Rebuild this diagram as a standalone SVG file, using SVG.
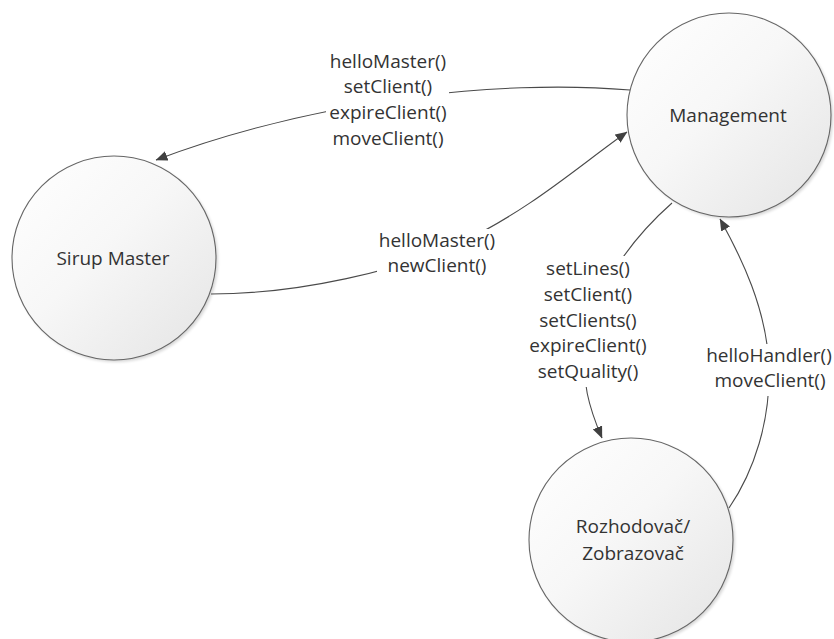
<svg xmlns="http://www.w3.org/2000/svg" width="834" height="639" viewBox="0 0 834 639">
  <defs>
    <linearGradient id="nodeFill" x1="0" y1="0" x2="1" y2="1">
      <stop offset="0" stop-color="#ffffff"/>
      <stop offset="0.45" stop-color="#f7f7f7"/>
      <stop offset="1" stop-color="#e4e4e4"/>
    </linearGradient>
    <filter id="soft" x="-20%" y="-20%" width="140%" height="140%">
      <feGaussianBlur stdDeviation="1.6"/>
    </filter>
    <marker id="arrow" viewBox="0 0 12 10" refX="11.5" refY="5" markerWidth="12" markerHeight="10" markerUnits="userSpaceOnUse" orient="auto">
      <path d="M0,0 L12,5 L0,10 z" fill="#404040"/>
    </marker>
    <style>
      .node-shadow { fill: #000000; opacity: 0.16; filter: url(#soft); }
      .node { fill: url(#nodeFill); stroke: #666666; stroke-width: 1.1; }
      .node-text { font-family: "Open Sans", "Noto Sans", "Liberation Sans", sans-serif; font-size: 19px; fill: #333333; text-anchor: middle; }
      .edge { fill: none; stroke: #4a4a4a; stroke-width: 1.1; marker-end: url(#arrow); }
      .label-bg { fill: #ffffff; }
      .label { font-family: "Open Sans", "Noto Sans", "Liberation Sans", sans-serif; font-size: 19px; fill: #333333; text-anchor: middle; }
    </style>
  </defs>

  <rect width="834" height="639" fill="#ffffff"/>

  <!-- nodes -->
  <g id="management">
    <circle class="node-shadow" cx="731" cy="117" r="102"/>
    <circle class="node" cx="729" cy="115" r="102"/>
    <text class="node-text" x="728" y="122">Management</text>
  </g>

  <g id="sirup-master">
    <circle class="node-shadow" cx="116" cy="260" r="102"/>
    <circle class="node" cx="114" cy="258" r="102"/>
    <text class="node-text" x="113" y="265">Sirup Master</text>
  </g>

  <g id="rozhodovac">
    <circle class="node-shadow" cx="633" cy="542" r="102"/>
    <circle class="node" cx="631" cy="540" r="102"/>
    <text class="node-text" x="633" y="533">Rozhodovač/</text>
    <text class="node-text" x="633" y="560">Zobrazovač</text>
  </g>

  <!-- connectors with their labels -->
  <g id="connectors">
    <!-- Management -> Sirup Master -->
    <path class="edge" d="M630,90 C560,84 480,88 420,96 C330,108 240,128 156,160"/>
    <!-- Sirup Master -> Management -->
    <path class="edge" d="M211,294 C300,294 400,270 460,243 C530,210 580,165 627,132"/>
    <!-- Management -> Rozhodovač/Zobrazovač -->
    <path class="edge" d="M672,203 C630,240 595,290 586,340 C580,380 590,410 602,438"/>
    <!-- Rozhodovač/Zobrazovač -> Management -->
    <path class="edge" d="M729,508 C755,470 770,420 769,370 C768,310 740,255 720,219"/>

    <g id="label-to-master">
      <rect class="label-bg" x="326" y="50" width="123" height="101"/>
      <text class="label" x="388" y="67.5">helloMaster()</text>
      <text class="label" x="388" y="93.3">setClient()</text>
      <text class="label" x="388" y="119.1">expireClient()</text>
      <text class="label" x="388" y="145">moveClient()</text>
    </g>

    <g id="label-from-master">
      <rect class="label-bg" x="377" y="229" width="122" height="51"/>
      <text class="label" x="437" y="246.5">helloMaster()</text>
      <text class="label" x="437" y="272.3">newClient()</text>
    </g>

    <g id="label-to-rozhodovac">
      <rect class="label-bg" x="526" y="256" width="126" height="131"/>
      <text class="label" x="588" y="275">setLines()</text>
      <text class="label" x="588" y="300.8">setClient()</text>
      <text class="label" x="588" y="326.6">setClients()</text>
      <text class="label" x="588" y="352.4">expireClient()</text>
      <text class="label" x="588" y="378.2">setQuality()</text>
    </g>

    <g id="label-from-rozhodovac">
      <rect class="label-bg" x="704" y="344" width="130" height="52"/>
      <text class="label" x="769" y="361.5">helloHandler()</text>
      <text class="label" x="770" y="387">moveClient()</text>
    </g>
  </g>
</svg>
